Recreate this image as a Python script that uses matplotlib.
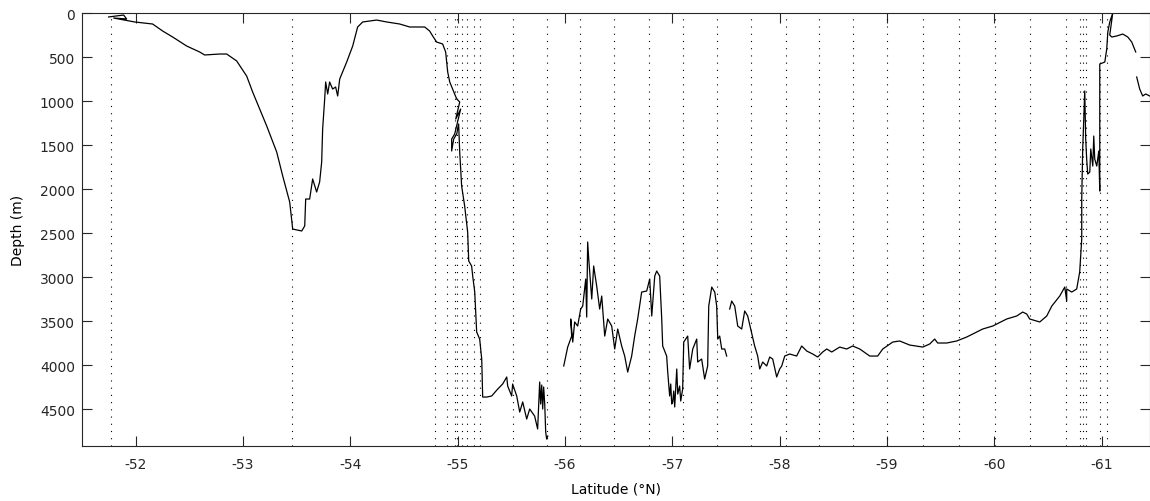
import numpy as np
import matplotlib.pyplot as plt

# station positions (latitude)
station_lat = [-51.77, -53.46, -54.786, -54.902, -54.972, -54.991, -55.037, -55.089,
               -55.149, -55.205, -55.515, -55.832, -56.143, -56.460, -56.782, -57.099,
               -57.416, -57.730, -58.056, -58.370, -58.683, -58.997, -59.335, -59.668,
               -60.006, -60.330, -60.672, -60.802, -60.830, -60.858, -60.984, -61.053]

# bathymetry, first segment (shelf, trough and slope down to the basin)
lat_a = [-51.748, -51.888, -51.916, -51.795, -51.991, -52.158, -52.252, -52.345, -52.475,
         -52.596, -52.643, -52.783, -52.848, -52.941, -53.034, -53.090, -53.221, -53.314,
         -53.370, -53.435, -53.463, -53.547, -53.575, -53.584, -53.621, -53.649, -53.686,
         -53.714, -53.733, -53.742, -53.761, -53.770, -53.789, -53.807, -53.835, -53.863,
         -53.882, -53.901, -53.966, -54.022, -54.068, -54.115, -54.245, -54.339, -54.460,
         -54.553, -54.693, -54.739, -54.767, -54.804, -54.860, -54.888, -54.907, -54.926,
         -54.953, -54.991, -55.019, -54.982, -55.028, -54.972, -54.944, -54.944, -54.963,
         -54.991, -55.009, -55.019, -55.037, -55.065, -55.093, -55.103, -55.130, -55.140,
         -55.159, -55.177, -55.205, -55.224, -55.233, -55.270, -55.317, -55.373, -55.419,
         -55.457, -55.466, -55.503, -55.512, -55.550, -55.578, -55.606, -55.643, -55.671,
         -55.717, -55.745, -55.764, -55.773, -55.783, -55.792, -55.801, -55.811, -55.820,
         -55.829, -55.839]
depth_a = [45, 23, 68, 57, 102, 125, 205, 273, 375,
           443, 477, 466, 466, 545, 716, 898, 1284, 1580,
           1852, 2148, 2455, 2477, 2420, 2114, 2114, 1886, 2034,
           1920, 1693, 1318, 977, 784, 920, 784, 864, 841,
           943, 750, 557, 375, 159, 102, 80, 102, 125,
           159, 159, 205, 261, 330, 352, 443, 670, 784,
           864, 977, 1011, 1205, 1091, 1375, 1432, 1568, 1432,
           1375, 1261, 1580, 1966, 2193, 2489, 2818, 2875, 2989,
           3171, 3625, 3705, 3932, 4364, 4364, 4352, 4273, 4216,
           4136, 4239, 4352, 4216, 4352, 4534, 4420, 4614, 4500,
           4580, 4727, 4193, 4443, 4227, 4500, 4250, 4443, 4761,
           4841, 4807]

# second segment (rough ridges in the basin)
lat_b = [-55.988, -56.025, -56.062, -56.053, -56.072, -56.090, -56.118, -56.146, -56.165,
         -56.193, -56.202, -56.211, -56.221, -56.249, -56.267, -56.295, -56.323, -56.342,
         -56.370, -56.398, -56.435, -56.463, -56.491, -56.528, -56.556, -56.584, -56.621,
         -56.649, -56.677, -56.714, -56.761, -56.789, -56.808, -56.836, -56.854, -56.882,
         -56.901, -56.910, -56.947, -56.957, -56.975, -56.985, -56.994, -57.003, -57.013,
         -57.022, -57.041, -57.050, -57.068, -57.078, -57.096,
         -57.106, -57.143, -57.161, -57.190, -57.227, -57.236, -57.273, -57.301, -57.329,
         -57.339, -57.367, -57.395, -57.413, -57.423, -57.441, -57.460, -57.488, -57.506]
depth_b = [4011, 3796, 3671, 3477, 3739, 3511, 3557, 3364, 3330,
           3023, 3455, 2602, 2795, 3250, 2875, 3102, 3364, 3216,
           3671, 3477, 3557, 3818, 3591, 3784, 3898, 4080, 3898,
           3671, 3477, 3171, 3159, 3023, 3443, 2989, 2932, 2989,
           3477, 3784, 3898, 4080, 4352, 4216, 4443, 4420, 4295,
           4477, 4045, 4330, 4239, 4409, 4273,
           3739, 3671, 4045, 3818, 3705, 3966, 3932, 4159, 4011,
           3330, 3114, 3171, 3330, 3705, 3671, 3818, 3818, 3898]

# third segment (abyssal plain up the southern slope)
lat_c = [-57.534, -57.553, -57.581, -57.609, -57.646, -57.674, -57.702, -57.730, -57.767,
         -57.795, -57.814, -57.842, -57.879, -57.907, -57.935, -57.972, -58.000, -58.019,
         -58.047, -58.093, -58.158, -58.205, -58.252, -58.308, -58.354, -58.401, -58.438,
         -58.485, -58.559, -58.624, -58.680, -58.746, -58.839, -58.913, -58.960, -59.053,
         -59.118, -59.211, -59.333, -59.398, -59.444, -59.472, -59.556, -59.649, -59.742,
         -59.798, -59.891, -59.985, -60.115, -60.208, -60.264, -60.302, -60.329, -60.423,
         -60.488, -60.535, -60.609, -60.656, -60.674, -60.674, -60.721, -60.767, -60.795,
         -60.814, -60.814, -60.823, -60.833, -60.842, -60.851, -60.860, -60.870, -60.889,
         -60.898, -60.917, -60.926, -60.935, -60.954, -60.973, -60.982, -60.982, -61.029,
         -61.047, -61.057, -61.075, -61.103, -61.075, -61.094, -61.140, -61.196, -61.243,
         -61.280, -61.317]
depth_c = [3364, 3273, 3330, 3557, 3591, 3386, 3443, 3591, 3784,
           3898, 4045, 3966, 4011, 3909, 3932, 4136, 4045, 4011,
           3898, 3875, 3898, 3784, 3841, 3875, 3909, 3852, 3818,
           3852, 3796, 3818, 3784, 3818, 3898, 3898, 3818, 3739,
           3727, 3773, 3796, 3761, 3705, 3750, 3750, 3727, 3682,
           3648, 3591, 3557, 3477, 3443, 3398, 3421, 3477, 3511,
           3443, 3330, 3216, 3114, 3273, 3136, 3171, 3136, 2943,
           2568, 2114, 1545, 1205, 886, 1432, 1659, 1830, 1807,
           1545, 1739, 1398, 1659, 1739, 1568, 2023, 580, 557,
           409, 216, 102, 0, 250, 273, 261, 239, 273,
           330, 443]

# last piece at the northern end of the plot
lat_d = [-61.326, -61.354, -61.382, -61.410, -61.447]
depth_d = [727, 864, 943, 920, 943]

plt.rcParams['font.family'] = ['DejaVu Sans']
plt.rcParams['axes.unicode_minus'] = False
fig = plt.figure(figsize=(11.5, 5.02), dpi=100)
ax = fig.add_axes([0.0713, 0.1096, 0.9287, 0.8625])

for s in station_lat:
    ax.axvline(s, color='k', lw=0.8, ls=(0, (1, 5.5)))

for la, de in [(lat_a, depth_a), (lat_b, depth_b), (lat_c, depth_c), (lat_d, depth_d)]:
    ax.plot(la, de, color='k', lw=0.9)

ax.set_xlim(-51.5, -61.45)
ax.set_ylim(4920, 0)
ax.set_xticks(np.arange(-52, -62, -1))
ax.set_yticks(np.arange(0, 5000, 500))
ax.tick_params(direction='in', length=7.5, width=0.8, top=True, right=True,
               labelsize=10, colors='#262626')
ax.tick_params(axis='x', pad=8)
ax.tick_params(axis='y', pad=5)
for sp in ax.spines.values():
    sp.set_color('#262626')
ax.set_xlabel('Latitude (°N)', fontsize=10)
ax.set_ylabel('Depth (m)', fontsize=10)
ax.xaxis.set_label_coords(0.5, -0.083)
ax.yaxis.set_label_coords(-0.053, 0.5)

plt.savefig('out.png', dpi=100)
